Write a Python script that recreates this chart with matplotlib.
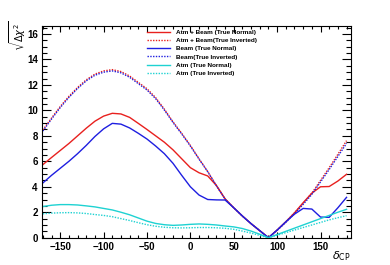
import matplotlib
matplotlib.use("Agg")
import matplotlib.pyplot as plt
from matplotlib.ticker import MultipleLocator

# delta_CP grid (degrees)
delta_cp = [-170, -160, -150, -140, -130, -120, -110, -100, -90, -80,
            -70, -60, -50, -40, -30, -20, -10, 0, 10, 20,
            30, 40, 50, 60, 70, 80, 90, 100, 110, 120,
            130, 140, 150, 160, 170, 180]

# sqrt(delta chi^2)
atm_beam_normal = [5.74, 6.3, 6.85, 7.4, 8.0, 8.6, 9.15, 9.55, 9.77, 9.72,
                   9.45, 8.98, 8.5, 8.0, 7.5, 6.9, 6.2, 5.5, 5.1, 4.85,
                   4.1, 3.05, 2.35, 1.7, 1.1, 0.55, 0.0, 0.6, 1.25, 1.95,
                   2.75, 3.5, 4.0, 4.02, 4.45, 4.98]
atm_beam_inverted = [8.46, 9.4, 10.3, 11.1, 11.8, 12.4, 12.85, 13.1, 13.2, 13.05,
                     12.7, 12.2, 11.7, 11.0, 10.1, 9.1, 8.2, 7.25, 6.2, 5.2,
                     4.1, 3.05, 2.35, 1.7, 1.1, 0.55, 0.0, 0.6, 1.25, 1.95,
                     2.7, 3.5, 4.5, 5.5, 6.55, 7.62]
beam_normal = [4.3, 4.9, 5.45, 6.0, 6.6, 7.25, 7.95, 8.55, 8.98, 8.92,
               8.62, 8.2, 7.75, 7.2, 6.6, 5.84, 4.9, 4.0, 3.35, 3.0,
               2.97, 2.96, 2.35, 1.7, 1.1, 0.55, 0.0, 0.6, 1.25, 1.85,
               2.3, 2.25, 1.62, 1.6, 2.35, 3.17]
beam_inverted = [8.38, 9.32, 10.22, 11.02, 11.72, 12.32, 12.76, 13.0, 13.1, 12.95,
                 12.6, 12.1, 11.6, 10.92, 10.03, 9.05, 8.15, 7.2, 6.17, 5.18,
                 4.08, 3.04, 2.34, 1.7, 1.1, 0.55, 0.0, 0.58, 1.2, 1.88,
                 2.62, 3.4, 4.38, 5.36, 6.38, 7.41]
atm_normal = [2.45, 2.55, 2.6, 2.6, 2.57, 2.5, 2.42, 2.3, 2.18, 2.0,
              1.8, 1.55, 1.3, 1.12, 1.02, 0.97, 1.0, 1.05, 1.08, 1.05,
              1.0, 0.92, 0.85, 0.72, 0.52, 0.27, 0.0, 0.25, 0.5, 0.75,
              1.0, 1.25, 1.5, 1.75, 2.0, 2.23]
atm_inverted = [1.88, 1.93, 1.96, 1.97, 1.95, 1.9, 1.82, 1.75, 1.65, 1.5,
                1.35, 1.18, 1.02, 0.9, 0.82, 0.78, 0.77, 0.78, 0.8, 0.8,
                0.78, 0.74, 0.66, 0.52, 0.36, 0.18, 0.0, 0.2, 0.4, 0.6,
                0.8, 1.0, 1.2, 1.4, 1.57, 1.73]

labels = ["Atm + Beam (True Normal)", "Atm + Beam(True Inverted)",
          "Beam (True Normal)", "Beam(True Inverted)",
          "Atm (True Normal)", "Atm (True Inverted)"]

plt.rcParams["font.family"] = ["Liberation Sans", "DejaVu Sans"]
plt.rcParams["mathtext.fontset"] = "dejavusans"

fig = plt.figure(figsize=(3.9, 2.65), dpi=100)
ax = fig.add_axes([0.1077, 0.103, 0.792, 0.799])

red, blue, cyan = "#e8201e", "#1e1ee0", "#1ed2d2"
dot = (0, (1, 1))
ax.plot(delta_cp, atm_beam_normal, color=red, lw=1.0, label=labels[0])
ax.plot(delta_cp, atm_beam_inverted, color=red, lw=1.0, ls=dot, label=labels[1])
ax.plot(delta_cp, beam_normal, color=blue, lw=1.0, label=labels[2])
ax.plot(delta_cp, beam_inverted, color=blue, lw=1.0, ls=dot, label=labels[3])
ax.plot(delta_cp, atm_normal, color=cyan, lw=1.0, label=labels[4])
ax.plot(delta_cp, atm_inverted, color=cyan, lw=1.0, ls=dot, label=labels[5])

ax.set_xlim(-171, 185)
ax.set_ylim(0, 16.63)
ax.xaxis.set_major_locator(MultipleLocator(50))
ax.xaxis.set_minor_locator(MultipleLocator(10))
ax.yaxis.set_major_locator(MultipleLocator(2))
ax.yaxis.set_minor_locator(MultipleLocator(0.5))
ax.tick_params(which="both", direction="in", top=True, right=True,
               labelsize=7, width=0.8)
ax.tick_params(axis="x", which="major", length=4.6, pad=3)
ax.tick_params(axis="x", which="minor", length=2.3)
ax.tick_params(axis="y", which="major", length=6.7, pad=3)
ax.tick_params(axis="y", which="minor", length=3.3)
for t in ax.get_xticklabels() + ax.get_yticklabels():
    t.set_fontweight("bold")
for s in ax.spines.values():
    s.set_linewidth(0.8)

fig.text(0.045, 0.865, r"$\sqrt{\Delta\chi^2}$", rotation=90,
         ha="center", va="center", fontsize=7)
fig.text(0.9, 0.035, r"$\delta_{\rm CP}$", ha="right", va="center", fontsize=8)

leg = ax.legend(loc="upper left", bbox_to_anchor=(0.37, 0.9),
                bbox_transform=fig.transFigure, frameon=False,
                prop={"size": 4.6, "weight": "bold"}, handlelength=3.6,
                labelspacing=0.42, borderpad=0, handletextpad=0.9)

fig.savefig("out.png", dpi=100)
